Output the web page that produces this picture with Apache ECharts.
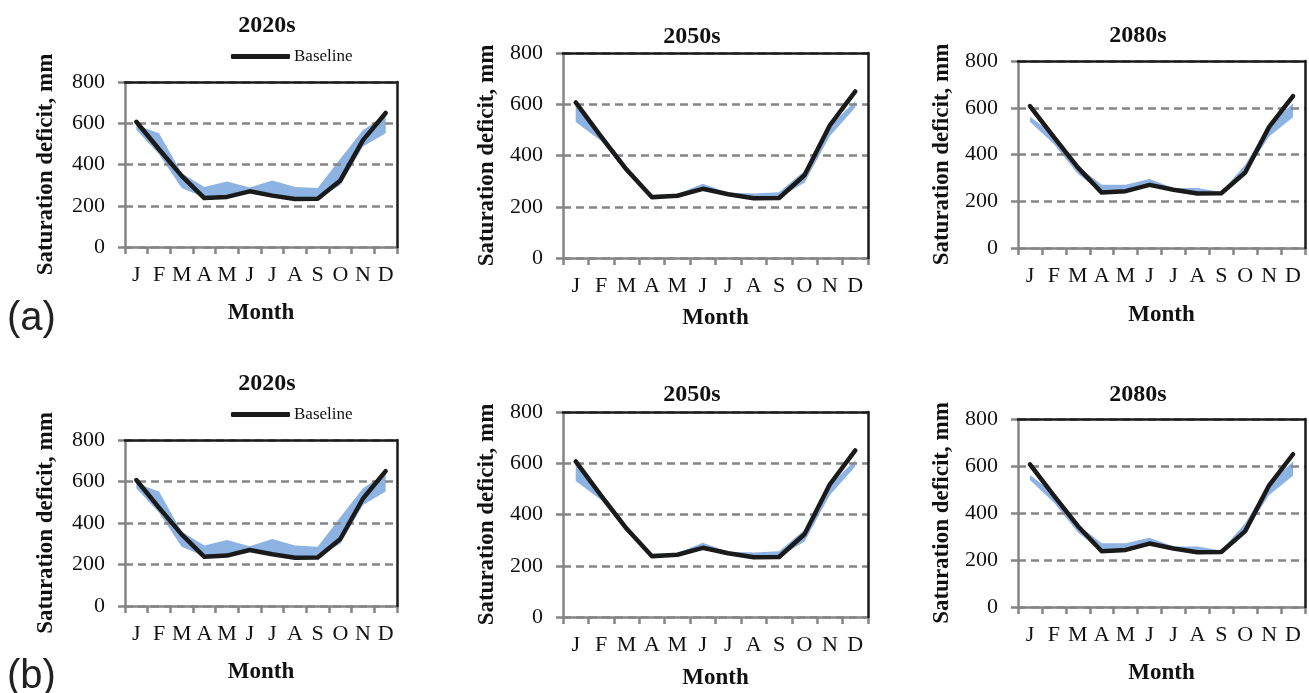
<!DOCTYPE html>
<html><head><meta charset="utf-8">
<script src="https://cdn.jsdelivr.net/npm/echarts@6/dist/echarts.min.js"></script>
<style>html,body{margin:0;padding:0;background:#fff}#c{width:1309px;height:693px}</style>
</head><body><div id="c"></div>
<script>
// ---- data ----
const months = ['J','F','M','A','M','J','J','A','S','O','N','D'];
const yTicks = [0, 200, 400, 600, 800];
const baseline = [607, 474, 345, 237, 243, 270, 249, 233, 234, 323, 518, 650];
const low2020  = [568, 450, 286, 240, 248, 262, 248, 238, 238, 300, 487, 552];
const high2020 = [592, 552, 358, 291, 318, 288, 323, 291, 286, 428, 567, 640];
const low2050  = [531, 457, 333, 238, 242, 262, 246, 231, 235, 294, 476, 587];
const high2050 = [593, 474, 346, 248, 250, 290, 255, 252, 257, 340, 515, 613];
const low2080  = [540, 445, 318, 236, 243, 265, 245, 232, 232, 320, 477, 559];
const high2080 = [562, 484, 350, 271, 271, 295, 257, 257, 240, 356, 526, 619];
const periods = ['2020s', '2050s', '2080s'];
const rowLabels = ['(a)', '(b)'];
const yName = 'Saturation deficit, mm';
const xName = 'Month';
const legendName = 'Baseline';

const bands = [[low2020, high2020], [low2050, high2050], [low2080, high2080]];

// ---- layout ----
const layout = [
  {row:0, p:0, left:125, top:82,  w:272, h:165, tx:267,  ty:14,  gx:55, gy:67},
  {row:0, p:1, left:563, top:53,  w:305, h:205, tx:692,  ty:25,  gx:49, gy:64},
  {row:0, p:2, left:1018,top:61,  w:287, h:187, tx:1138, ty:24,  gx:56, gy:64},
  {row:1, p:0, left:125, top:440, w:272, h:166, tx:267,  ty:372, gx:55, gy:67},
  {row:1, p:1, left:563, top:412, w:305, h:205, tx:692,  ty:383, gx:50, gy:64},
  {row:1, p:2, left:1018,top:419, w:287, h:188, tx:1138, ty:383, gx:55, gy:64}
];
const serif = '"Liberation Serif", "Times New Roman", serif';
const gray = '#858585';
const dark = '#1a1a1a';
const blue = '#8db3e2';
const N = layout.length;

const grid = [], xAxis = [], yAxis = [], series = [], title = [];
layout.forEach((L, i) => {
  grid.push({left:L.left, top:L.top, width:L.w, height:L.h, show:false});
  xAxis[i] = {type:'category', gridIndex:i, data:months, boundaryGap:true, position:'bottom',
    axisLine:{onZero:false, lineStyle:{color:gray, width:2.5}},
    axisTick:{show:true, alignWithLabel:false, length:7, lineStyle:{color:gray, width:2.5}},
    axisLabel:{color:'#111', fontFamily:serif, fontSize:22, margin:17, interval:0},
    name:xName, nameLocation:'middle', nameGap:L.gx,
    nameTextStyle:{color:'#111', fontFamily:serif, fontSize:23, fontWeight:'bold'},
    splitLine:{show:false}, z:3};
  // frame: top border (covers the dashed line at 800)
  xAxis[N + i] = {type:'category', gridIndex:i, data:months, position:'top', boundaryGap:true,
    axisLine:{show:true, onZero:false, lineStyle:{color:dark, width:2.5}}, axisTick:{show:false},
    axisLabel:{show:false}, splitLine:{show:false}, silent:true, z:4};
  yAxis[i] = {type:'value', gridIndex:i, position:'left', min:yTicks[0], max:yTicks[yTicks.length-1],
    interval:yTicks[1]-yTicks[0],
    axisLine:{show:true, onZero:false, lineStyle:{color:gray, width:2.5}},
    axisTick:{show:true, length:7, lineStyle:{color:gray, width:2.5}},
    axisLabel:{color:'#111', fontFamily:serif, fontSize:22, margin:20},
    splitLine:{show:true, lineStyle:{color:gray, width:2.5, type:[8,5]}},
    name:yName, nameLocation:'middle', nameRotate:90, nameGap:L.gy,
    nameTextStyle:{color:'#111', fontFamily:serif, fontSize:23, fontWeight:'bold'}, z:3};
  // frame: right border
  yAxis[N + i] = {type:'value', gridIndex:i, position:'right', min:yTicks[0], max:yTicks[yTicks.length-1],
    interval:yTicks[1]-yTicks[0],
    axisLine:{show:true, onZero:false, lineStyle:{color:dark, width:2.5}}, axisTick:{show:false},
    axisLabel:{show:false}, splitLine:{show:false}, silent:true, z:4};
  const [lo, hi] = bands[L.p];
  const stack = 'band' + i;
  series.push({type:'line', name:'low'+i, xAxisIndex:i, yAxisIndex:i, stack:stack,
    data:lo, symbol:'none', lineStyle:{width:0, opacity:0}, silent:true, z:2});
  series.push({type:'line', name:'range'+i, xAxisIndex:i, yAxisIndex:i, stack:stack,
    data:hi.map((v, k) => v - lo[k]), symbol:'none', lineStyle:{width:0, opacity:0},
    areaStyle:{color:blue, opacity:1}, silent:true, z:2});
  series.push({type:'line', name:legendName, xAxisIndex:i, yAxisIndex:i, data:baseline,
    symbol:'none', lineStyle:{color:dark, width:4.5, cap:'round', join:'round'}, z:5});
  title.push({text:periods[L.p], left:L.tx, top:L.ty, textAlign:'center', padding:0,
    textStyle:{fontFamily:serif, fontSize:24, fontWeight:'bold', color:'#111'}});
});

const legend = [
  {left:231, top:48, data:[legendName]},
  {left:231, top:406, data:[legendName]}
].map(l => Object.assign(l, {icon:'roundRect', itemWidth:59, itemHeight:5, itemGap:4,
  selectedMode:false, padding:0, itemStyle:{color:dark, borderWidth:0},
  textStyle:{fontFamily:serif, fontSize:17, color:'#111', padding:[0,0,0,-1]}}));

const graphic = [
  {type:'text', left:7, top:299, style:{text:rowLabels[0], font:'40px "Liberation Sans", Arial, sans-serif', fill:'#222'}},
  {type:'text', left:7, top:657, style:{text:rowLabels[1], font:'40px "Liberation Sans", Arial, sans-serif', fill:'#222'}}
];

const chart = echarts.init(document.getElementById('c'), null, {renderer:'canvas'});
chart.setOption({animation:false, backgroundColor:'#fff', grid, xAxis, yAxis, series, title, legend, graphic});
</script>
</body></html>
